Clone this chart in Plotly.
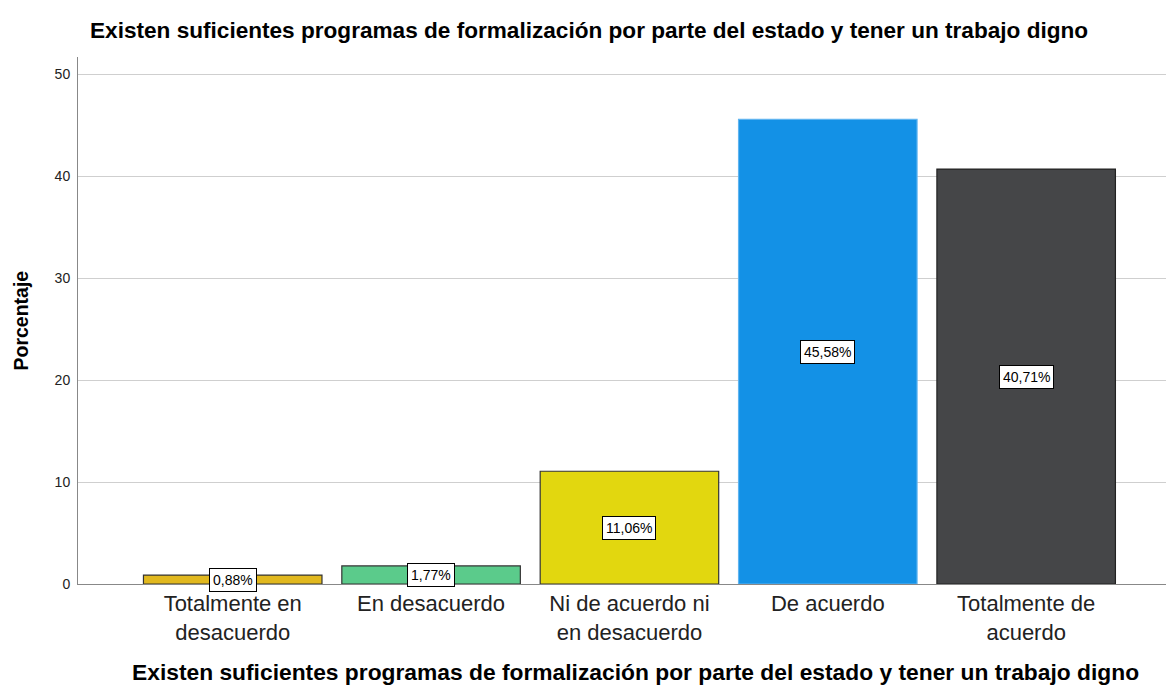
import plotly.graph_objects as go

categories = ["Totalmente en<br>desacuerdo", "En desacuerdo", "Ni de acuerdo ni<br>en desacuerdo", "De acuerdo", "Totalmente de<br>acuerdo"]
values = [0.88, 1.77, 11.06, 45.58, 40.71]
labels = ["0,88%", "1,77%", "11,06%", "45,58%", "40,71%"]
colors = ["#E1B81E", "#5BCB8B", "#E2D70F", "#1391E6", "#454648"]
line_colors = ["#333333", "#333333", "#333333", "#5FB4F0", "#222222"]
title_text = "Existen suficientes programas de formalización por parte del estado y tener un trabajo digno"
y_ticks = [0, 10, 20, 30, 40, 50]

W, H = 1166, 686
L, R, T, B = 78, 0, 57, 102
FONT = "Liberation Sans, Arial"

fig = go.Figure()
fig.add_trace(go.Bar(
    x=list(range(len(categories))), y=values,
    marker=dict(color=colors, line=dict(color=line_colors, width=1.2)),
    width=0.9, hoverinfo="skip",
))

for i, (v, t) in enumerate(zip(values, labels)):
    fig.add_annotation(x=i, y=v / 2, text=t, showarrow=False,
                       font=dict(family=FONT, size=14, color="black"),
                       bgcolor="white", bordercolor="black", borderwidth=1, borderpad=3)

fig.add_annotation(xref="paper", yref="paper", x=(635 - L) / (W - L), y=-(672 - 584) / (H - T - B),
                   text="<b>" + title_text + "</b>", showarrow=False, xanchor="center", yanchor="middle",
                   font=dict(family=FONT, size=22.8, color="black"))
fig.add_annotation(xref="paper", yref="paper", x=-(L - 20) / (W - L), y=0.5, textangle=-90,
                   text="<b>Porcentaje</b>", showarrow=False, xanchor="center", yanchor="middle",
                   font=dict(family=FONT, size=19.5, color="black"))

fig.update_layout(
    width=W, height=H,
    margin=dict(l=L, r=R, t=T, b=B),
    paper_bgcolor="white", plot_bgcolor="white",
    showlegend=False,
    title=dict(text="<b>" + title_text + "</b>", x=90 / W, xanchor="left", xref="container",
               y=1 - 30 / H, yanchor="middle", yref="container",
               font=dict(family=FONT, size=22.6, color="black")),
    xaxis=dict(range=[-0.78, 4.705], tickmode="array", tickvals=list(range(len(categories))),
               ticktext=categories, showgrid=False, showline=True, linecolor="#888888", linewidth=1,
               ticks="", tickfont=dict(family=FONT, size=22, color="#222222"),
               zeroline=False, fixedrange=True),
    yaxis=dict(range=[0, 51.7], tickvals=y_ticks, showgrid=True, gridcolor="#CFCFCF", gridwidth=1,
               showline=True, linecolor="#888888", linewidth=1, ticks="", ticklabelstandoff=4,
               tickfont=dict(family=FONT, size=14, color="#222222"),
               zeroline=False, fixedrange=True),
    bargap=0.1,
)

fig.write_html("out.html", config={"displayModeBar": False},
               post_script="document.body.style.margin='0';document.body.style.padding='0';")
